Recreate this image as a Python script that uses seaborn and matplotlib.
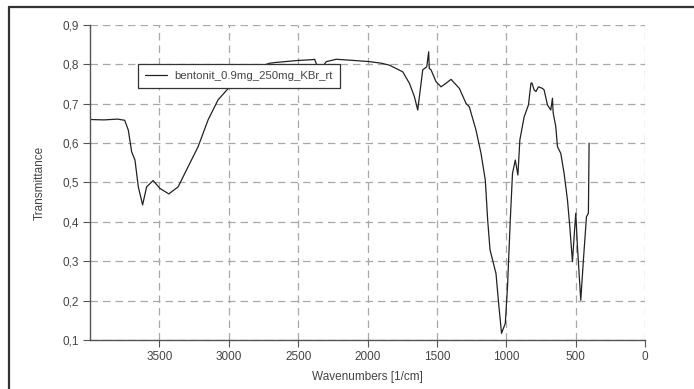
import numpy as np
import pandas as pd
import matplotlib
matplotlib.use("Agg")
import matplotlib.pyplot as plt
from matplotlib.lines import Line2D
import seaborn as sns

# IR spectrum (wavenumber descending)
wavenumbers = [4000, 3900, 3800, 3750, 3724, 3700, 3676, 3652, 3621, 3592,
               3545, 3496, 3432, 3365, 3293, 3221, 3149, 3077, 2993, 2900,
               2827, 2705, 2657, 2500, 2395, 2381, 2357, 2330, 2297, 2225,
               2100, 1986, 1900, 1842, 1746, 1698, 1662, 1638, 1602, 1573,
               1559, 1555, 1542, 1506, 1470, 1434, 1398, 1338, 1290, 1266,
               1218, 1182, 1151, 1134, 1117, 1074, 1055, 1034, 1007, 991,
               971, 955, 935, 916, 902, 871, 840, 822, 815, 799,
               786, 768, 739, 727, 703, 679, 667, 662, 643, 631,
               607, 583, 559, 542, 523, 511, 499, 487, 463, 444,
               422, 408, 403]
transmittance = [0.660, 0.659, 0.661, 0.658, 0.633, 0.578, 0.557, 0.489, 0.443, 0.489,
                 0.505, 0.485, 0.471, 0.489, 0.540, 0.591, 0.659, 0.710, 0.743, 0.770,
                 0.788, 0.803, 0.805, 0.810, 0.812, 0.813, 0.790, 0.792, 0.807, 0.813,
                 0.810, 0.807, 0.803, 0.798, 0.781, 0.752, 0.718, 0.684, 0.786, 0.794,
                 0.832, 0.790, 0.786, 0.756, 0.743, 0.752, 0.762, 0.739, 0.701, 0.692,
                 0.633, 0.574, 0.506, 0.405, 0.329, 0.269, 0.193, 0.117, 0.142, 0.235,
                 0.405, 0.523, 0.557, 0.519, 0.608, 0.667, 0.697, 0.752, 0.753, 0.735,
                 0.731, 0.743, 0.739, 0.735, 0.697, 0.684, 0.714, 0.677, 0.642, 0.591,
                 0.574, 0.523, 0.456, 0.388, 0.299, 0.362, 0.422, 0.337, 0.201, 0.303,
                 0.413, 0.422, 0.600]

series_name = "bentonit_0.9mg_250mg_KBr_rt"
x_ticks = [3500, 3000, 2500, 2000, 1500, 1000, 500, 0]
y_ticks = [0.1, 0.2, 0.3, 0.4, 0.5, 0.6, 0.7, 0.8, 0.9]
y_tick_labels = ["0,1", "0,2", "0,3", "0,4", "0,5", "0,6", "0,7", "0,8", "0,9"]

df = pd.DataFrame({"Wavenumber": wavenumbers, "Transmittance": transmittance,
                   "Sample": series_name})

sns.set_style("white")
plt.rcParams["font.family"] = ["Liberation Sans", "DejaVu Sans"]

fig = plt.figure(figsize=(6.94, 3.89), dpi=100)
ax = fig.add_axes([0.1297, 0.126, 0.7997, 0.8097])

sns.lineplot(data=df, x="Wavenumber", y="Transmittance", hue="Sample",
             palette=["#222222"], sort=False, estimator=None, linewidth=0.9, ax=ax)

ax.set_xlim(4000, 0)
ax.set_ylim(0.1, 0.9)
ax.set_xticks(x_ticks)
ax.set_yticks(y_ticks)
ax.set_yticklabels(y_tick_labels)

ax.grid(True, color="#a8a8a8", linestyle=(0, (6, 4)), linewidth=0.9)
for s in ["top", "right"]:
    ax.spines[s].set_visible(False)
for s in ["left", "bottom"]:
    ax.spines[s].set_color("#555555")
    ax.spines[s].set_linewidth(1.0)
ax.tick_params(axis="both", direction="out", length=5, width=0.8, color="#555555",
               labelsize=8.5, labelcolor="#444444", left=True, bottom=True, pad=3)

ax.set_xlabel("Wavenumbers [1/cm]", fontsize=8.5, color="#444444", labelpad=6)
ax.set_ylabel("Transmittance", fontsize=8.5, color="#444444", labelpad=12)

leg = ax.legend(loc="upper left", bbox_to_anchor=(0.086, 0.876), frameon=True,
                fancybox=False, framealpha=1, edgecolor="#333333", fontsize=8.2,
                handlelength=2.0, handletextpad=0.6, borderpad=0.6, borderaxespad=0)
leg.get_frame().set_linewidth(0.9)
for t in leg.get_texts():
    t.set_color("#444444")

# outer frame lines
fig.add_artist(Line2D([0.013, 1.0], [0.982, 0.982], color="#333333", linewidth=1.6,
                      transform=fig.transFigure))
fig.add_artist(Line2D([0.013, 0.013], [0.0, 0.982], color="#333333", linewidth=1.6,
                      transform=fig.transFigure))

fig.savefig("out.png", dpi=100)
